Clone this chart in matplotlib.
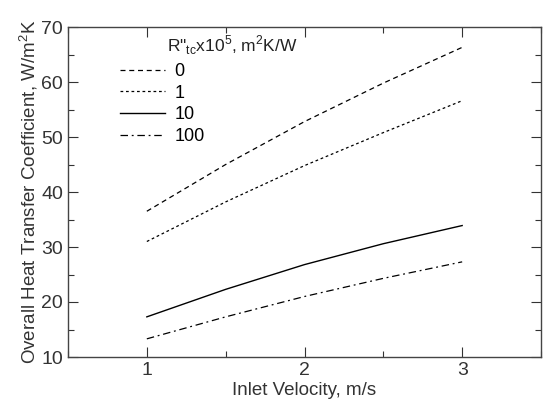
import matplotlib
matplotlib.use("Agg")
import matplotlib.pyplot as plt
from matplotlib.ticker import MultipleLocator

plt.rcParams['font.family'] = ['Liberation Sans', 'DejaVu Sans']
plt.rcParams['mathtext.fontset'] = 'custom'
plt.rcParams['mathtext.rm'] = 'Liberation Sans'

# data
velocity = [1.0, 1.5, 2.0, 2.5, 3.0]
u_r0 = [36.5, 45.0, 52.8, 59.8, 66.3]
u_r1 = [31.0, 38.2, 44.8, 50.8, 56.6]
u_r10 = [17.3, 22.3, 26.8, 30.6, 33.9]
u_r100 = [13.3, 17.3, 21.0, 24.3, 27.3]
labels = ['0', '1', '10', '100']

fig = plt.figure(figsize=(5.48, 4.05), dpi=100)
ax = fig.add_axes([68/548, 1 - 357/405, (541-68)/548, (357-27)/405])

ax.plot(velocity, u_r0, color='k', lw=0.9, dashes=(4, 3), label=labels[0])
ax.plot(velocity, u_r1, color='k', lw=0.9, dashes=(2.2, 2.2), label=labels[1])
ax.plot(velocity, u_r10, color='k', lw=1.0, linestyle='-', label=labels[2])
ax.plot(velocity, u_r100, color='k', lw=0.9, dashes=(6, 3, 1.5, 3), label=labels[3])

ax.set_xlim(0.5, 3.5)
ax.set_ylim(10, 70)
ax.xaxis.set_major_locator(MultipleLocator(1))
ax.xaxis.set_minor_locator(MultipleLocator(0.5))
ax.yaxis.set_major_locator(MultipleLocator(10))
ax.yaxis.set_minor_locator(MultipleLocator(5))
ax.tick_params(which='both', direction='in', top=True, right=True, labelsize=14, colors='#333333')
ax.tick_params(which='major', length=7, width=0.8)
ax.tick_params(which='minor', length=4, width=0.8)
for s in ax.spines.values():
    s.set_linewidth(1.0)
    s.set_color('#444444')

ax.set_xlabel('Inlet Velocity, m/s', fontsize=13.5, color='#333333', labelpad=2)
ax.set_ylabel('Overall Heat Transfer Coefficient, W/m$^2$K', fontsize=13.5, color='#333333', labelpad=1)

# legend title sits indented, over the labels
ax.text(0.21, 0.945, "R\"$_{\\mathrm{tc}}$x10$^5$, m$^2$K/W", transform=ax.transAxes,
        fontsize=12.5, color='#222222', ha='left', va='center')
ax.legend(loc='upper left', bbox_to_anchor=(0.11, 0.89), frameon=False,
          fontsize=13, handlelength=2.5, handletextpad=0.5, labelspacing=0.25,
          borderaxespad=0, borderpad=0)

fig.savefig('out.png', dpi=100)
